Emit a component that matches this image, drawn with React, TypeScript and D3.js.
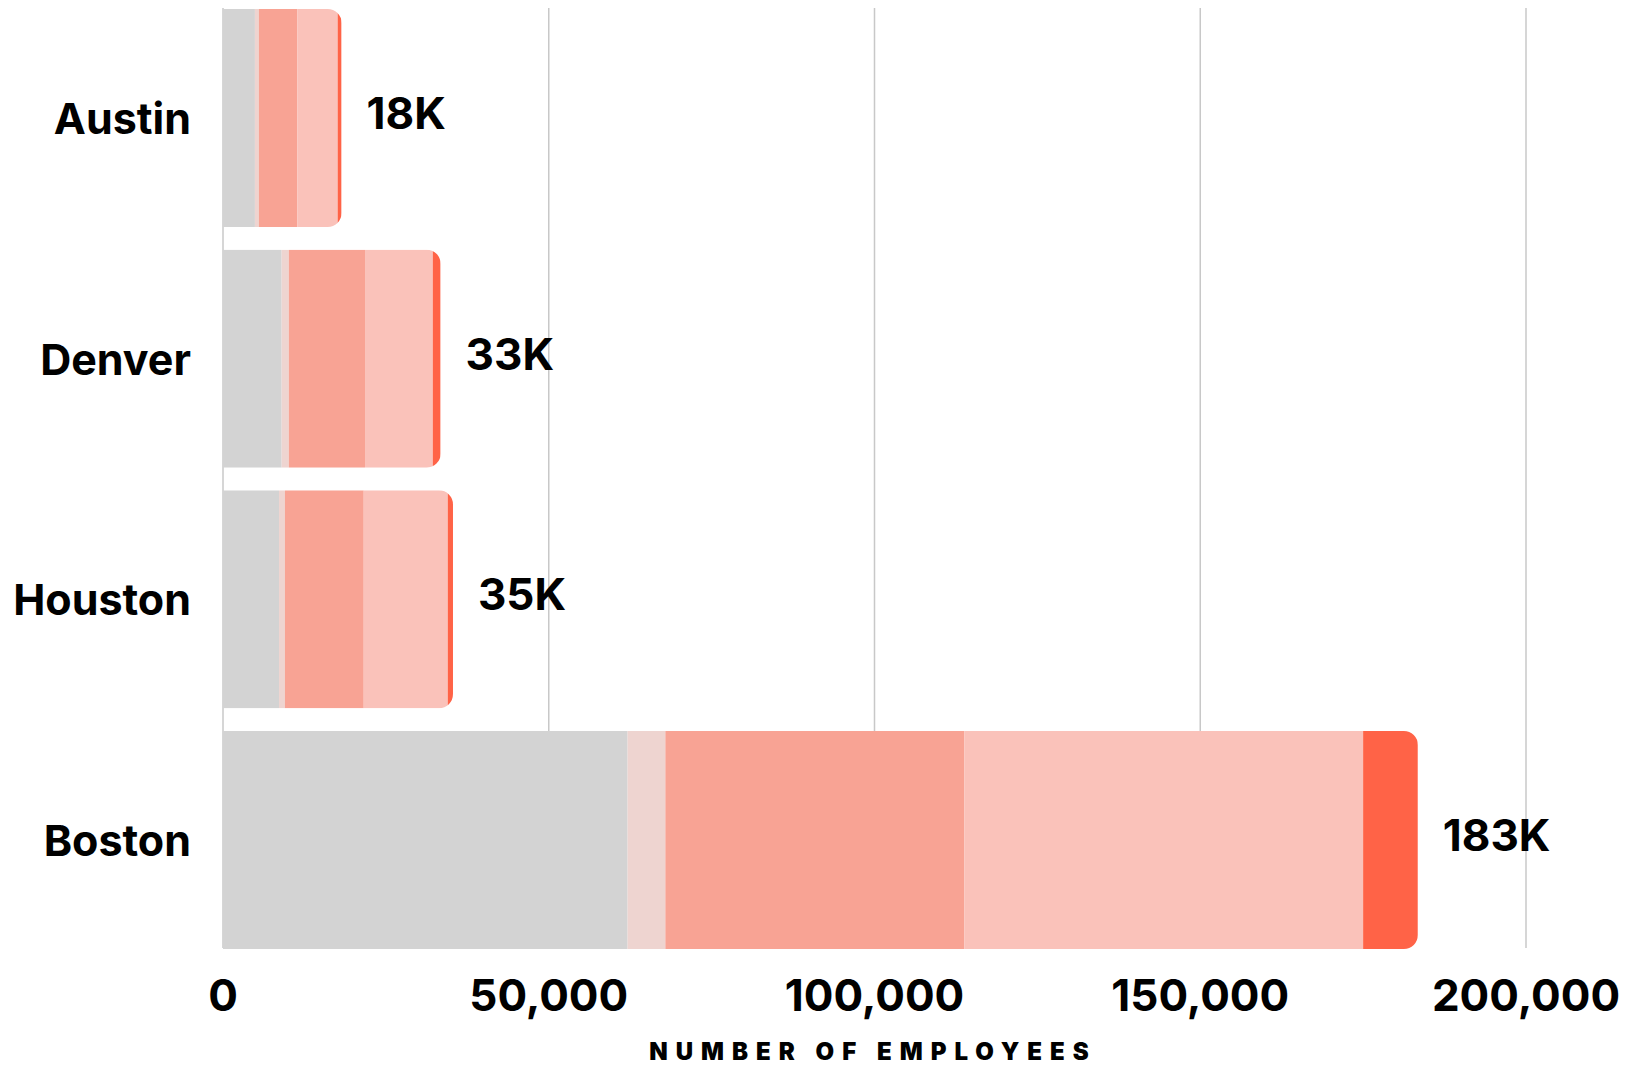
import React from "react";
import * as d3 from "d3";

// cities, top to bottom
const cities = ["Austin", "Denver", "Houston", "Boston"];

// stacked segments, employees per city (left to right)
const segKeys = ["seg1", "seg2", "seg3", "seg4", "seg5"];
const seg1 = [4900, 9000, 8600, 62100];
const seg2 = [600, 1100, 900, 5800];
const seg3 = [5900, 11700, 12100, 45900];
const seg4 = [6200, 10400, 12900, 61200];
const seg5 = [600, 1200, 800, 8400];

const xTicks = [0, 50000, 100000, 150000, 200000];
const segColors = ["#d3d3d3", "#eed4d0", "#f8a394", "#fac2ba", "#ff6347"];

const W = 1627;
const H = 1066;
const margin = { l: 223, r: 101, t: 9, b: 117 };
const FONT = "Inter, 'Noto Sans', sans-serif";

export default function App() {
  const rows = cities.map((city, i) => ({
    city,
    seg1: seg1[i],
    seg2: seg2[i],
    seg3: seg3[i],
    seg4: seg4[i],
    seg5: seg5[i],
  }));

  const x = d3
    .scaleLinear()
    .domain([0, 200000])
    .range([margin.l, W - margin.r]);

  const y = d3
    .scaleBand<string>()
    .domain(cities)
    .range([margin.t, H - margin.b])
    .paddingInner(0.094)
    .paddingOuter(0);

  const stack = d3.stack<any>().keys(segKeys)(rows);
  const color = d3.scaleOrdinal<string, string>().domain(segKeys).range(segColors);
  const fmt = d3.format(",");

  const totals = rows.map((r) => d3.sum(segKeys, (k) => r[k]));
  const radius = 14;

  // right-rounded rectangle used to clip each stacked bar
  function roundRight(x0: number, x1: number, y0: number, h: number) {
    const r = Math.min(radius, (x1 - x0) / 2, h / 2);
    return `M${x0},${y0}H${x1 - r}A${r},${r} 0 0 1 ${x1},${y0 + r}V${y0 + h - r}A${r},${r} 0 0 1 ${x1 - r},${y0 + h}H${x0}Z`;
  }

  const gridTop = 8;
  const gridBottom = 948;

  return (
    <svg
      width={W}
      height={H}
      style={{ position: "absolute", left: 0, top: 0, display: "block", background: "#fff" }}
    >
      <defs>
        {cities.map((c, i) => (
          <clipPath id={`clip-${i}`} key={c}>
            <path d={roundRight(x(0), x(totals[i]), y(c)!, y.bandwidth())} />
          </clipPath>
        ))}
      </defs>

      {/* grid lines */}
      <g>
        {xTicks.map((t) => (
          <line
            key={t}
            x1={x(t)}
            x2={x(t)}
            y1={gridTop}
            y2={gridBottom}
            stroke="#c8c8c8"
            strokeWidth={1.5}
          />
        ))}
      </g>

      {/* bars */}
      {cities.map((c, i) => (
        <g key={c} clipPath={`url(#clip-${i})`}>
          {stack.map((layer) => (
            <rect
              key={layer.key}
              x={x(layer[i][0])}
              width={Math.max(0, x(layer[i][1]) - x(layer[i][0]))}
              y={y(c)}
              height={y.bandwidth()}
              fill={color(layer.key)}
            />
          ))}
        </g>
      ))}

      {/* totals */}
      {cities.map((c, i) => (
        <text
          key={c}
          x={x(totals[i]) + 25}
          y={y(c)! + y.bandwidth() / 2 - 5}
          dominantBaseline="central"
          fontFamily={FONT}
          fontWeight={700}
          fontSize={44}
          fill="#000"
        >
          {Math.round(totals[i] / 1000) + "K"}
        </text>
      ))}

      {/* y labels */}
      {cities.map((c) => (
        <text
          key={c}
          x={margin.l - 32}
          y={y(c)! + y.bandwidth() / 2}
          textAnchor="end"
          dominantBaseline="central"
          fontFamily={FONT}
          fontWeight={700}
          fontSize={43}
          fill="#000"
        >
          {c}
        </text>
      ))}

      {/* x tick labels */}
      {xTicks.map((t) => (
        <text
          key={t}
          x={x(t)}
          y={995}
          textAnchor="middle"
          dominantBaseline="central"
          fontFamily={FONT}
          fontWeight={700}
          fontSize={44}
          fill="#000"
        >
          {fmt(t)}
        </text>
      ))}

      <text
        x={873}
        y={1051}
        textAnchor="middle"
        dominantBaseline="central"
        fontFamily={FONT}
        fontWeight={900}
        fontSize={24}
        letterSpacing={8}
        fill="#000"
      >
        NUMBER OF EMPLOYEES
      </text>
    </svg>
  );
}
